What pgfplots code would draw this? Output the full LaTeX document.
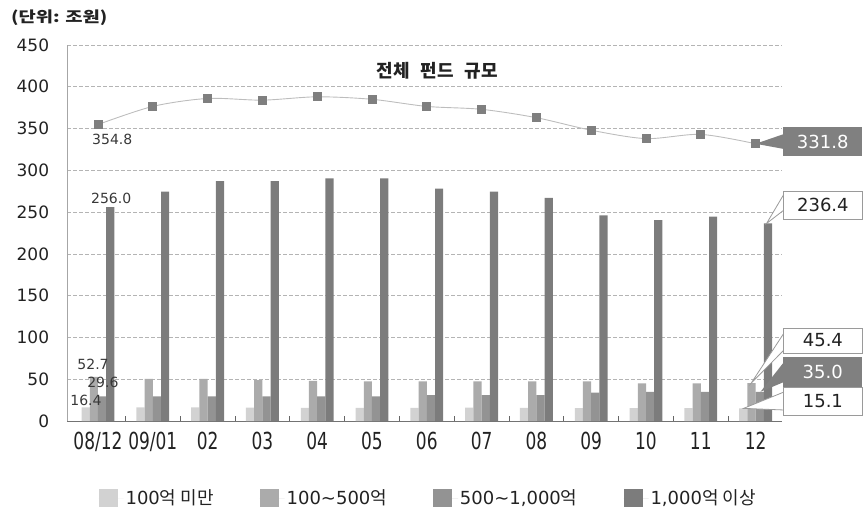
\documentclass[border=0pt]{standalone}
\usepackage{fontspec}
\usepackage{graphicx}
\usepackage{pgfplots}
\usepackage{pgfplotstable}
\pgfplotsset{compat=1.18}
\setmainfont{DejaVu Sans}
\newfontfamily\ko{Noto Sans CJK KR}

\definecolor{barA}{HTML}{D2D2D2}
\definecolor{barB}{HTML}{ABABAB}
\definecolor{barC}{HTML}{939393}
\definecolor{barD}{HTML}{7C7C7C}
\definecolor{lineC}{HTML}{BDBDBD}
\definecolor{markC}{HTML}{7F7F7F}
\definecolor{gridC}{HTML}{B4B4B4}
\definecolor{boxdark}{HTML}{808080}
\definecolor{boxedge}{HTML}{9A9A9A}
\definecolor{txt}{HTML}{222222}

\newcommand\xl[1]{\scalebox{1}[1.38]{#1}}

% fund size by bracket (trillion won); total = whole fund market
\pgfplotstableread{
x  small mid  large huge  total
0  16.4  52.7 29.6  256.0 354.8
1  16.3  50.5 29.5  274.4 376.5
2  16.2  50.5 29.5  287.0 386.0
3  16.0  49.0 29.5  287.0 384.0
4  15.8  48.0 29.5  290.4 388.0
5  15.6  47.5 29.5  290.4 385.0
6  15.8  47.5 31.0  278.0 376.5
7  15.9  47.5 31.0  274.4 373.0
8  15.8  47.5 31.0  267.0 363.0
9  15.5  47.5 34.0  246.0 348.0
10 15.4  45.0 35.0  240.5 338.0
11 15.3  45.0 35.0  244.5 343.0
12 15.1  45.4 35.0  236.4 331.8
}\fundtable

\begin{document}
\begin{tikzpicture}
\path[use as bounding box] (0,0) rectangle (864bp,508bp);

\node[anchor=west, text=txt, inner sep=0pt] at (11bp,490bp)
  {\scalebox{1.25}[1]{\ko\bfseries\fontsize{15bp}{17bp}\selectfont (단위: 조원)}};

\begin{axis}[
  at={(67.3bp,87bp)}, anchor=south west,
  scale only axis, width=714.6bp, height=376bp,
  xmin=-0.56, xmax=12.48, ymin=0, ymax=450,
  axis lines*=left,
  x axis line style={draw=black!55, line width=0.8bp},
  y axis line style={draw=black!35, line width=0.8bp},
  tick align=inside,
  major tick length=0pt,
  minor tick length=5bp,
  minor x tick style={draw=black!60, line width=0.6bp},
  xtick={0,1,...,12},
  minor xtick={0.5,1.5,...,11.5},
  xticklabels={\xl{08/12},\xl{09/01},\xl{02},\xl{03},\xl{04},\xl{05},\xl{06},\xl{07},\xl{08},\xl{09},\xl{10},\xl{11},\xl{12}},
  xticklabel style={font=\fontsize{17bp}{19bp}\selectfont, text=txt, anchor=north, inner sep=0pt, yshift=-11bp},
  ytick={0,50,...,450},
  yticklabel style={font=\fontsize{17bp}{19bp}\selectfont, text=txt, anchor=east, inner sep=0pt, xshift=-18bp},
  /pgf/number format/assume math mode=true,
  ymajorgrids=true,
  major grid style={draw=gridC, dash pattern=on 3.5bp off 2.5bp, line width=0.7bp},
  clip=false,
  legend columns=4,
  legend image code/.code={\fill[#1] (0bp,-8.5bp) rectangle (19bp,9bp); \path (0bp,0bp) -- (25bp,0bp);},
  legend style={at={(0.505,-0.205)}, anchor=center, draw=none, fill=none,
    font=\fontsize{18bp}{20bp}\selectfont, text=txt, inner sep=0pt,
    /tikz/every even column/.append style={column sep=44bp}},
  legend cell align=left,
]
\addplot[ybar, bar width=0.15, bar shift=-0.225, fill=barA, draw=none] table[x=x,y=small]{\fundtable};
\addlegendentry{100{\ko 억 미만}}
\addplot[ybar, bar width=0.15, bar shift=-0.075, fill=barB, draw=none] table[x=x,y=mid]{\fundtable};
\addlegendentry{100\textasciitilde500{\ko 억}}
\addplot[ybar, bar width=0.15, bar shift=0.075, fill=barC, draw=none] table[x=x,y=large]{\fundtable};
\addlegendentry{500\textasciitilde1,000{\ko 억}}
\addplot[ybar, bar width=0.15, bar shift=0.225, fill=barD, draw=none] table[x=x,y=huge]{\fundtable};
\addlegendentry{1,000{\ko 억 이상}}

\addplot[smooth, color=lineC, line width=0.9bp, mark=square*, mark size=4bp,
  mark options={fill=markC, draw=markC}, forget plot] table[x=x,y=total]{\fundtable};

\node[font=\ko\bfseries\fontsize{18bp}{20bp}\selectfont, text=txt] at (axis cs:6.19,419) {전체\hspace{0.6em}펀드\hspace{0.6em}규모};

\begin{scope}[font=\fontsize{14bp}{16bp}\selectfont, text=txt!90]
\node at (axis cs:0.26,337.5) {354.8};
\node at (axis cs:0.24,266.9) {256.0};
\node at (axis cs:-0.09,68.2) {52.7};
\node at (axis cs:0.09,46.7) {29.6};
\node at (axis cs:-0.22,25.1) {16.4};
\end{scope}

\coordinate (tTot) at (axis cs:12,331.8);
\coordinate (tHuge) at (axis cs:12.2,236.4);
\coordinate (tMid) at (axis cs:11.92,45.4);
\coordinate (tLarge) at (axis cs:12.09,35.0);
\coordinate (tSmall) at (axis cs:11.78,15.1);
\end{axis}

% callouts on the right
\begin{scope}[font=\fontsize{18bp}{20bp}\selectfont]
\fill[boxdark] (tTot) -- (784bp,374bp) -- (784bp,359bp) -- cycle;
\node[fill=boxdark, text=white, minimum width=79bp, minimum height=29bp, inner sep=0pt, anchor=west] at (783bp,366.5bp) {331.8};

\fill[white] (784bp,314bp) -- (tHuge) -- (784bp,298bp) -- cycle;
\draw[boxedge, line width=0.8bp] (784bp,314bp) -- (tHuge) -- (784bp,298bp);
\node[fill=white, draw=boxedge, line width=0.8bp, text=txt, minimum width=79bp, minimum height=28bp, inner sep=0pt, anchor=west] at (783bp,303bp) {236.4};

\fill[white] (784bp,175bp) -- (tMid) -- (784bp,158bp) -- cycle;
\draw[boxedge, line width=0.8bp] (784bp,175bp) -- (tMid) -- (784bp,158bp);
\node[fill=white, draw=boxedge, line width=0.8bp, text=txt, minimum width=79bp, minimum height=25bp, inner sep=0pt, anchor=west] at (783bp,167.5bp) {45.4};

\fill[boxdark] (784bp,146bp) -- (tLarge) -- (784bp,126bp) -- cycle;
\node[fill=boxdark, text=white, minimum width=79bp, minimum height=30bp, inner sep=0pt, anchor=west] at (783bp,136bp) {35.0};

\fill[white] (784bp,116bp) -- (tSmall) -- (784bp,98bp) -- cycle;
\draw[boxedge, line width=0.8bp] (784bp,116bp) -- (tSmall) -- (784bp,98bp);
\node[fill=white, draw=boxedge, line width=0.8bp, text=txt, minimum width=79bp, minimum height=28bp, inner sep=0pt, anchor=west] at (783bp,107bp) {15.1};
\end{scope}
\end{tikzpicture}
\end{document}
